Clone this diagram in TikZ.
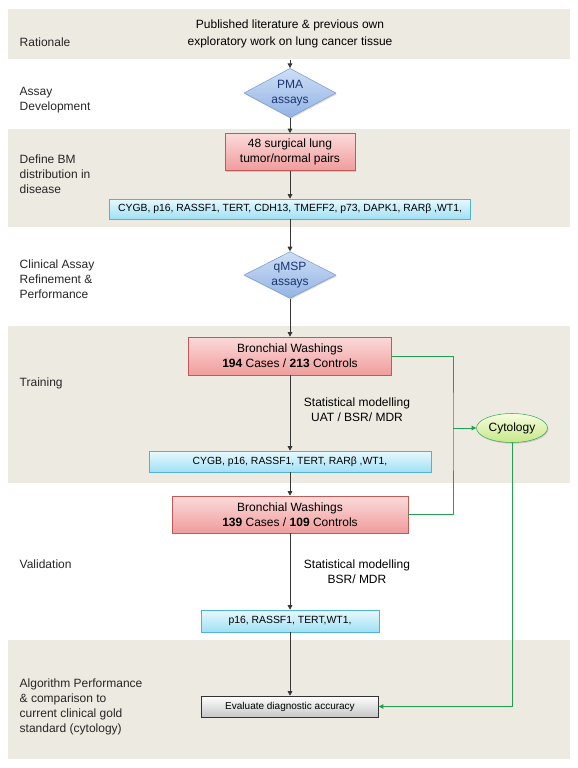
\documentclass[tikz,border=0pt]{standalone}
\usepackage{fontspec}
\setmainfont{Liberation Sans}
\usetikzlibrary{arrows.meta,shapes.geometric,shadows}

\definecolor{bandgray}{RGB}{236,234,225}
\definecolor{diadraw}{RGB}{122,155,205}
\definecolor{diatop}{RGB}{205,222,246}
\definecolor{diabot}{RGB}{146,180,228}
\definecolor{diatext}{RGB}{28,52,110}
\definecolor{reddraw}{RGB}{192,90,88}
\definecolor{redtop}{RGB}{251,218,218}
\definecolor{redbot}{RGB}{240,156,156}
\definecolor{cyandraw}{RGB}{80,178,214}
\definecolor{cyantop}{RGB}{232,249,253}
\definecolor{cyanbot}{RGB}{160,224,245}
\definecolor{cytodraw}{RGB}{60,165,90}
\definecolor{cytotop}{RGB}{246,252,222}
\definecolor{cytobot}{RGB}{198,232,136}
\definecolor{grnline}{RGB}{34,160,80}
\definecolor{arrgray}{RGB}{55,55,55}

\begin{document}
\begin{tikzpicture}[x=0.75pt,y=-0.75pt,
	band/.style={fill=bandgray},
	lbl/.style={anchor=west,align=left,font=\fontsize{9}{11.2}\selectfont,text=black!85},
	txt/.style={align=center,font=\fontsize{9}{11.2}\selectfont},
	shad/.style={drop shadow={shadow xshift=0.7pt,shadow yshift=-0.9pt,opacity=0.3}},
	dia/.style={diamond,aspect=2,draw=diadraw,top color=diatop,bottom color=diabot,shad,
		minimum width=69pt,minimum height=37pt,inner sep=0pt,align=center,text=diatext,
		font=\fontsize{9}{11}\selectfont},
	redbox/.style={rectangle,draw=reddraw,top color=redtop,bottom color=redbot,shad,
		inner sep=0pt,align=center,font=\fontsize{9}{11}\selectfont},
	cyanbox/.style={rectangle,draw=cyandraw,top color=cyantop,bottom color=cyanbot,shad,
		inner sep=0pt,align=center,font=\fontsize{7.8}{9}\selectfont},
	evalbox/.style={rectangle,draw=black!80,top color=white,bottom color=black!22,shad,
		inner sep=0pt,align=center,font=\fontsize{7.5}{9}\selectfont},
	arr/.style={draw=arrgray,line width=0.75pt,-{Triangle[length=3.5pt,width=3.5pt]}},
	grn/.style={draw=grnline,line width=0.75pt},
]
	\useasboundingbox (0,0) rectangle (578,768);
	%Полосы фона
	\fill[band] (8,9) rectangle (570,59);
	\fill[band] (8,129) rectangle (570,227);
	\fill[band] (8,326) rectangle (570,483);
	\fill[band] (8,640) rectangle (570,759);

	%Подписи слева
	\node[lbl] (lRat) at (15,42) {Rationale};
	\node[lbl] (lAssay) at (15,100) {Assay\\Development};
	\node[lbl] (lDefine) at (15,174) {Define BM\\distribution in\\disease};
	\node[lbl] (lClin) at (15,279) {Clinical Assay\\Refinement \&\\Performance};
	\node[lbl] (lTrain) at (15,383) {Training};
	\node[lbl] (lValid) at (15,564) {Validation};
	\node[lbl] (lAlgo) at (15,707) {Algorithm Performance\\\& comparison to\\current clinical gold\\standard (cytology)};

	%Узлы
	\node[txt,font=\fontsize{9}{12.6}\selectfont,inner ysep=9pt] (src) at (290,34)
		{Published literature \& previous own\\exploratory work on lung cancer tissue};
	\node[dia] (pma) at (290,93) {PMA\\assays};
	\node[redbox,minimum width=97.5pt,minimum height=27.75pt] (tissue) at (290,152)
		{48 surgical lung\\tumor/normal pairs};
	\node[cyanbox,minimum width=270.75pt,minimum height=15pt] (bmAll) at (290,209)
		{CYGB, p16, RASSF1, TERT, CDH13, TMEFF2, p73, DAPK1, RARβ ,WT1,};
	\node[dia,minimum height=35pt] (qmsp) at (290,275) {qMSP\\assays};
	\node[redbox,minimum width=152.25pt,minimum height=28.5pt] (washTrain) at (290,356)
		{Bronchial Washings\\\textbf{194} Cases / \textbf{213} Controls};
	\node[txt] (statTrain) at (357,410) {Statistical modelling\\UAT / BSR/ MDR};
	\node[cyanbox,minimum width=211.5pt,minimum height=15.75pt] (bmTrain) at (290,461.5)
		{CYGB, p16, RASSF1, TERT, RARβ ,WT1,};
	\node[redbox,minimum width=177pt,minimum height=27.75pt] (washValid) at (290,514.5)
		{Bronchial Washings\\\textbf{139} Cases / \textbf{109} Controls};
	\node[txt] (statValid) at (357,572) {Statistical modelling\\BSR/ MDR};
	\node[cyanbox,minimum width=133.5pt,minimum height=16.5pt] (bmValid) at (290,621)
		{p16, RASSF1, TERT,WT1,};
	\node[evalbox,minimum width=132.75pt,minimum height=15.75pt] (eval) at (290,706.5)
		{Evaluate diagnostic accuracy};
	\node[ellipse,draw=cytodraw,top color=cytotop,bottom color=cytobot,shad,inner sep=0pt,
		minimum width=53.25pt,minimum height=21.75pt,font=\fontsize{9}{11}\selectfont] (cyto) at (512,428) {Cytology};

	%Стрелки
	\draw[arr] (src) -- (pma);
	\draw[arr] (pma) -- (tissue);
	\draw[arr] (tissue) -- (bmAll);
	\draw[arr] (bmAll) -- (qmsp);
	\draw[arr] (qmsp) -- (washTrain);
	\draw[arr] (washTrain) -- (bmTrain);
	\draw[arr] (bmTrain) -- (washValid);
	\draw[arr] (washValid) -- (bmValid);
	\draw[arr] (bmValid) -- (eval);

	%Цитология
	\coordinate (split) at (453,428);
	\draw[grn] (washTrain.east) -| (split) |- (washValid.east);
	\draw[grn,-{Triangle[length=3.5pt,width=3.5pt]}] (split) -- (cyto);
	\draw[grn,-{Triangle[length=3.5pt,width=3.5pt]}] (cyto) |- (eval);
\end{tikzpicture}
\end{document}
